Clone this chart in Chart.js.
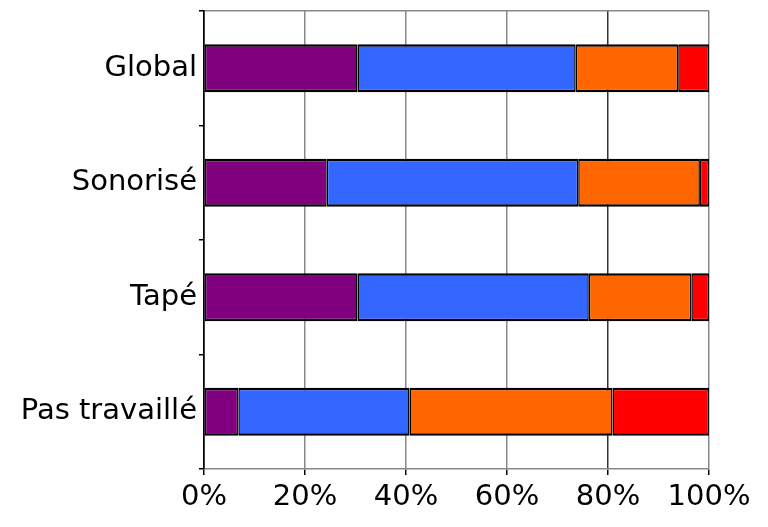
<!DOCTYPE html>
<html lang="fr">
<head>
<meta charset="UTF-8">
<title>Répartition</title>
<script src="https://cdn.jsdelivr.net/npm/chart.js"></script>
<style>
  html, body { margin: 0; padding: 0; background: #fff; }
  #wrap { width: 768px; height: 527px; }
</style>
</head>
<body>
<div id="wrap"><canvas id="chart" width="768" height="527"></canvas></div>
<script>
// categories (top to bottom)
var categories = ["Global", "Sonorisé", "Tapé", "Pas travaillé"];
// stacked shares in percent, one array per segment
var purpleVals = [30.4, 24.3, 30.4, 6.8];
var blueVals   = [43.2, 49.8, 45.8, 33.9];
var orangeVals = [20.3, 24.1, 20.3, 40.2];
var redVals    = [6.1, 1.8, 3.5, 19.1];
var xTicks = [0, 20, 40, 60, 80, 100];

var labelFont = { family: "'Comic Sans MS', 'DejaVu Sans', sans-serif", size: 29 };

function seg(data, color) {
  return {
    data: data,
    backgroundColor: color,
    borderColor: "#000",
    // side borders are thinner so two neighbours add up to one line
    borderWidth: { top: 2.5, bottom: 2.5, left: 1.5, right: 1.5 },
    borderSkipped: false,
    barPercentage: 0.42,
    categoryPercentage: 1
  };
}

var ctx = document.getElementById("chart").getContext("2d");
var myChart = new Chart(ctx, {
  type: "bar",
  data: {
    labels: categories,
    datasets: [
      seg(purpleVals, "#800080"),
      seg(blueVals, "#3366ff"),
      seg(orangeVals, "#ff6600"),
      seg(redVals, "#ff0000")
    ]
  },
  options: {
    indexAxis: "y",
    responsive: false,
    animation: false,
    layout: { padding: { top: 11, right: 59, left: 0, bottom: 0 } },
    plugins: { legend: { display: false }, tooltip: { enabled: false } },
    scales: {
      x: {
        stacked: true,
        min: 0,
        max: 100,
        afterBuildTicks: function (scale) {
          scale.ticks = xTicks.map(function (v) { return { value: v }; });
        },
        afterFit: function (scale) {
          scale.height = 58;
          scale.paddingLeft = 0;
          scale.paddingRight = 0;
        },
        ticks: {
          color: "#000",
          font: labelFont,
          padding: 5,
          maxRotation: 0,
          callback: function (v) { return v + "%"; }
        },
        grid: {
          color: function (c) {
            if (c.index === 0) return "#000";
            if (c.index === 4) return "#333";
            return "#888";
          },
          tickColor: "#000",
          tickLength: 6,
          lineWidth: 1.5
        },
        border: { color: "#888", width: 1.5 }
      },
      y: {
        stacked: true,
        afterFit: function (scale) {
          scale.width = 204;
          scale.paddingTop = 0;
          scale.paddingBottom = 0;
        },
        ticks: { color: "#000", font: labelFont, padding: 2 },
        grid: {
          offset: true,
          drawOnChartArea: true,
          color: function (c) {
            return c.index === 0 ? "#888" : "rgba(0,0,0,0)";
          },
          tickColor: "#000",
          tickLength: 5,
          lineWidth: 1.5
        },
        border: { color: "#000", width: 1.5 }
      }
    }
  }
});
</script>
</body>
</html>
